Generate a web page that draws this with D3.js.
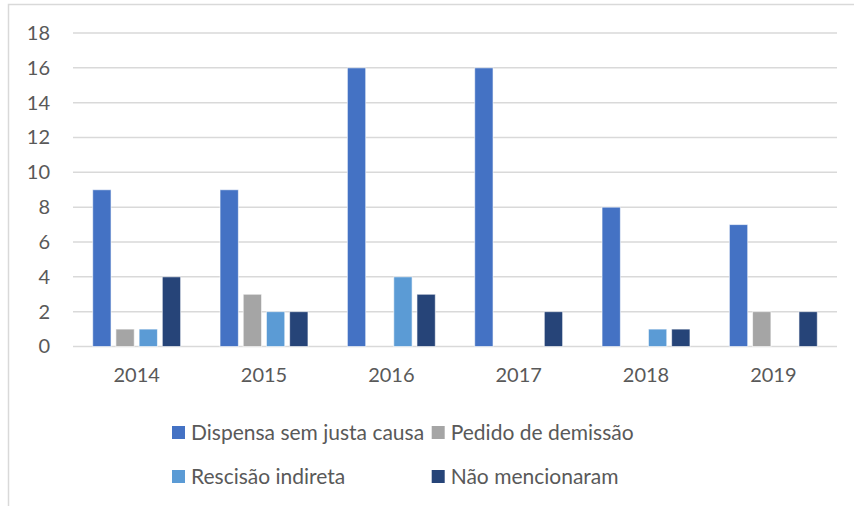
<!DOCTYPE html>
<html>
<head>
<meta charset="utf-8">
<script src="https://cdn.jsdelivr.net/npm/d3@7"></script>
<style>
	body { margin: 0; background: #fff; }
	text { font-family: Lato, "Open Sans", sans-serif; fill: #595959; }
</style>
</head>
<body>
<div id="chart"></div>
<script>
// data
var years = ["2014", "2015", "2016", "2017", "2018", "2019"];
var seriesNames = ["Dispensa sem justa causa", "Pedido de demissão", "Rescisão indireta", "Não mencionaram"];
var dispensa = [9, 9, 16, 16, 8, 7];
var pedido = [1, 3, 0, 0, 0, 2];
var rescisao = [1, 2, 4, 0, 1, 0];
var naoMencionaram = [4, 2, 3, 2, 1, 2];
var yTicks = [0, 2, 4, 6, 8, 10, 12, 14, 16, 18];
var colors = ["#4472C4", "#A5A5A5", "#5B9BD5", "#264478"];

var seriesValues = [dispensa, pedido, rescisao, naoMencionaram];

var width = 854, height = 506;
var svg = d3.select("#chart").append("svg")
	.attr("width", width)
	.attr("height", height);

// outer frame of the chart area
svg.append("path")
	.attr("d", "M8.5," + height + "V4.5H" + width)
	.style("fill", "none")
	.style("stroke", "#D9D9D9")
	.style("stroke-width", 1.5);

var plot = { left: 73, right: 837, top: 33, bottom: 346.5 };

var x = d3.scaleBand()
	.domain(years)
	.range([plot.left, plot.right])
	.padding(0);

var xInner = d3.scaleBand()
	.domain(seriesNames)
	.range([-46.4, 46.4])
	.paddingInner(0.21)
	.paddingOuter(0.105);

var y = d3.scaleLinear()
	.domain([0, 18])
	.range([plot.bottom, plot.top]);

//gridlines
svg.append("g").selectAll("line")
	.data(yTicks)
	.enter().append("line")
	.attr("x1", plot.left)
	.attr("x2", plot.right)
	.attr("y1", function(d) { return y(d); })
	.attr("y2", function(d) { return y(d); })
	.style("stroke", "#D9D9D9")
	.style("stroke-width", 1.5);

//y axis labels
var yAxis = d3.axisLeft(y).tickValues(yTicks).tickSize(0).tickPadding(0);
var gy = svg.append("g")
	.attr("transform", "translate(50,0)")
	.call(yAxis);
gy.select(".domain").remove();
gy.selectAll("text")
	.style("font-size", "20px")
	.style("font-family", "Lato, sans-serif")
	.attr("fill", "#595959");

//x axis labels
var xAxis = d3.axisBottom(x).tickSize(0).tickPadding(0);
var gx = svg.append("g")
	.attr("transform", "translate(0,368)")
	.call(xAxis);
gx.select(".domain").remove();
gx.selectAll("text")
	.style("font-size", "20px")
	.style("font-family", "Lato, sans-serif")
	.attr("fill", "#595959");

//bars
var groups = svg.append("g").selectAll("g")
	.data(years)
	.enter().append("g")
	.attr("transform", function(d) { return "translate(" + (x(d) + x.bandwidth() / 2) + ",0)"; });

groups.selectAll("rect")
	.data(function(d, i) {
		return seriesNames.map(function(s, k) { return { name: s, value: seriesValues[k][i], k: k }; });
	})
	.enter().filter(function(d) { return d.value > 0; })
	.append("rect")
	.attr("x", function(d) { return xInner(d.name); })
	.attr("width", xInner.bandwidth())
	.attr("y", function(d) { return y(d.value); })
	.attr("height", function(d) { return y(0) - y(d.value); })
	.style("fill", function(d) { return colors[d.k]; })
	.style("stroke", "#ffffff")
	.style("stroke-opacity", 0.6)
	.style("stroke-width", 1);

//legend
var legendPos = [
	{ x: 172, y: 426 },
	{ x: 431.7, y: 426 },
	{ x: 172, y: 470 },
	{ x: 431.7, y: 470 }
];
var legend = svg.append("g").selectAll("g")
	.data(seriesNames)
	.enter().append("g")
	.attr("transform", function(d, i) { return "translate(" + legendPos[i].x + "," + legendPos[i].y + ")"; });

legend.append("rect")
	.attr("width", 13)
	.attr("height", 13)
	.style("fill", function(d, i) { return colors[i]; });

legend.append("text")
	.attr("x", 19)
	.attr("y", 13.5)
	.style("font-size", "21px")
	.text(function(d) { return d; });
</script>
</body>
</html>
